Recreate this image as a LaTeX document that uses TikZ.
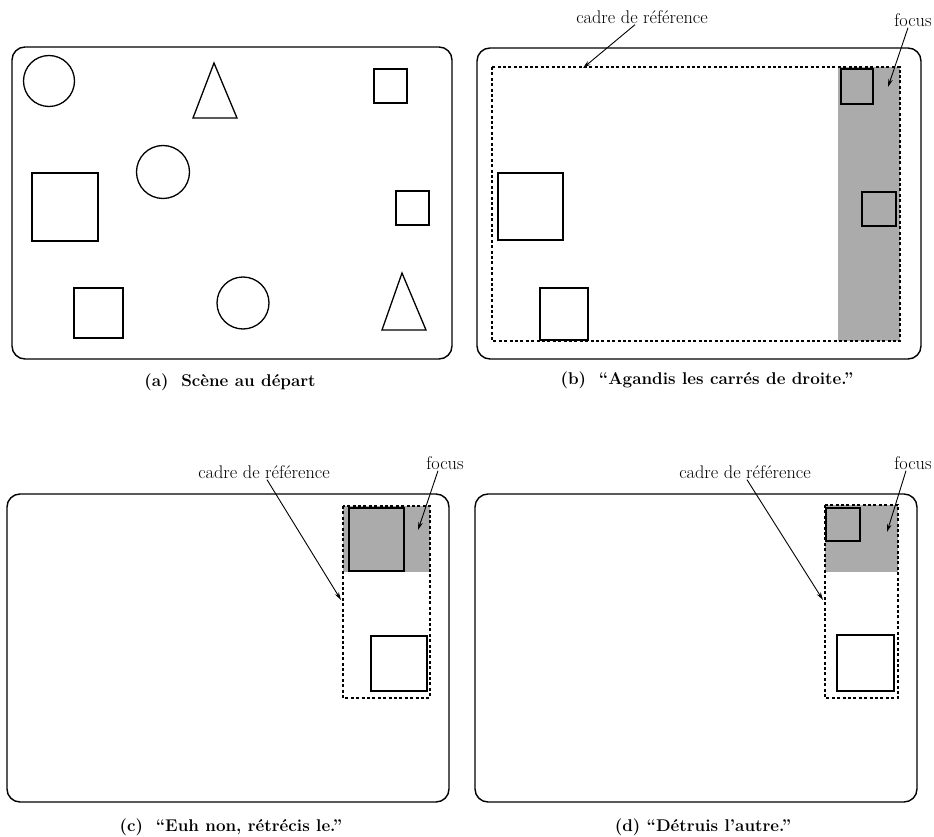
\documentclass[tikz,border=0pt]{standalone}
\usetikzlibrary{arrows.meta}
\definecolor{focusgray}{gray}{0.67}
\begin{document}
\begin{tikzpicture}[x=1pt,y=-1pt,
  panel/.style={draw, line width=1.4pt, rounded corners=13pt},
  shp/.style={draw, line width=1.3pt},
  fshp/.style={draw, line width=2pt, fill=focusgray},
  dframe/.style={draw, line width=1.5pt, dash pattern=on 3pt off 2.4pt},
  lbl/.style={font=\fontsize{18.3}{21}\selectfont, inner sep=1pt},
  captxt/.style={font=\fontsize{17}{20}\selectfont\bfseries, inner sep=1pt},
  ptr/.style={line width=0.9pt, -{Stealth[length=8pt,width=4.5pt]}}]
\useasboundingbox (0,0) rectangle (934,837);

% ---------- (a)
\draw[panel] (12,47) rectangle (452,359);
\draw[shp] (49,81) circle[radius=25.5];
\draw[shp] (214,63) -- (237,118) -- (193,118) -- cycle;
\draw[shp] (374,69) rectangle (407,103);
\draw[shp] (163,172) circle[radius=26.5];
\draw[shp] (32,173) rectangle (98,241);
\draw[shp] (396,191) rectangle (429,225);
\draw[shp] (74,288) rectangle (123,338);
\draw[shp] (243,303) circle[radius=26];
\draw[shp] (402,273) -- (426,330) -- (382,330) -- cycle;
\node[captxt] (capa) at (230,382) {(a)\ \ Scène au départ};

% ---------- (b)
\draw[panel] (477,48) rectangle (921,359);
\fill[focusgray] (838,67) rectangle (900,341);
\draw[fshp] (841,69) rectangle (873,104);
\draw[fshp] (862,192) rectangle (896,226);
\draw[shp] (498,173) rectangle (563,240);
\draw[shp] (540,288) rectangle (588,340);
\draw[dframe] (492,67) rectangle (900,341);
\node[lbl] (cadreb) at (642,17) {cadre de référence};
\coordinate (cadrebtip) at (583,68);
\draw[ptr] ([xshift=-7pt]cadreb.south) -- (cadrebtip);
\node[lbl] (focusb) at (913,20) {focus};
\coordinate (focusbtip) at (888,87);
\draw[ptr] ([xshift=-5pt]focusb.south) -- (focusbtip);
\node[captxt] (capb) at (707,380) {(b)\ \ “Agandis les carrés de droite.”};

% ---------- (c)
\draw[panel] (7,494) rectangle (449,802);
\fill[focusgray] (343,506) rectangle (430,572);
\draw[fshp] (349,508) rectangle (404,571);
\draw[shp] (371,636) rectangle (427,691);
\draw[dframe] (343,506) rectangle (430,698);
\node[lbl] (cadrec) at (264,472) {cadre de référence};
\coordinate (cadrectip) at (341,600);
\draw[ptr] ([xshift=3pt]cadrec.south) -- (cadrectip);
\node[lbl] (focusc) at (445,463) {focus};
\coordinate (focusctip) at (418,530);
\draw[ptr] ([xshift=-7pt]focusc.south) -- (focusctip);
\node[captxt] (capc) at (231,827) {(c)\ \ “Euh non, rétrécis le.”};

% ---------- (d)
\draw[panel] (475,494) rectangle (917,802);
\fill[focusgray] (825,505) rectangle (898,572);
\draw[fshp] (826,508) rectangle (860,541);
\draw[shp] (837,635) rectangle (894,691);
\draw[dframe] (825,505) rectangle (898,698);
\node[lbl] (cadred) at (745,472) {cadre de référence};
\coordinate (cadredtip) at (823,600);
\draw[ptr] ([xshift=2pt]cadred.south) -- (cadredtip);
\node[lbl] (focusd) at (913,463) {focus};
\coordinate (focusdtip) at (887,532);
\draw[ptr] ([xshift=-7pt]focusd.south) -- (focusdtip);
\node[captxt] (capd) at (703,827) {(d) “Détruis l’autre.”};
\end{tikzpicture}
\end{document}
